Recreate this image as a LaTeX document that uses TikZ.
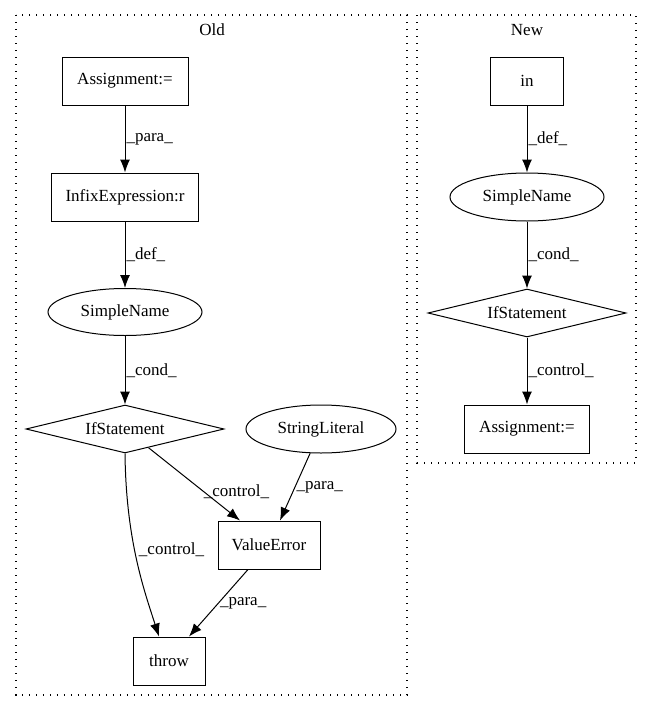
\documentclass[tikz,border=0pt]{standalone}
\usepackage{fontspec}
\setmainfont{Liberation Serif}
\usetikzlibrary{shapes.geometric,arrows.meta}

\tikzset{
  box/.style={draw,rectangle,line width=1pt,inner sep=0pt,minimum height=48pt},
  oval/.style={draw,ellipse,line width=1pt,inner sep=0pt,minimum width=154pt,minimum height=47pt},
  cond/.style={draw,diamond,line width=1pt,inner sep=0pt,aspect=4.1,minimum width=198pt,minimum height=48pt},
  edge/.style={line width=1pt,-{Latex[length=13pt,width=10pt]}},
  lbl/.style={right,inner sep=1pt},
  clust/.style={line width=1.1pt,dash pattern=on 1.3pt off 5.7pt}
}

\begin{document}
\begin{tikzpicture}[x=1pt,y=-1pt,font=\fontsize{17pt}{19pt}\selectfont]
   \useasboundingbox (0,0) rectangle (652,712);
   % old
   \draw[clust] (16,15) rectangle (407,695);
   \node (oldt) at (212,30) {Old};
   \node[box,minimum width=126pt] (asgold) at (125,81) {Assignment:=};
   \node[box,minimum width=147pt] (infix) at (125,197) {InfixExpression:r};
   \node[oval] (snold) at (125,312) {SimpleName};
   \node[cond] (ifold) at (125,429) {IfStatement};
   \node[oval,minimum width=150pt,minimum height=48pt] (strlit) at (321,429) {StringLiteral};
   \node[box,minimum width=102pt] (valerr) at (269,545) {ValueError};
   \node[box,minimum width=72pt] (throw) at (169,661) {throw};
   \draw[edge] (asgold) -- node[lbl]{\_para\_} (infix);
   \draw[edge] (infix) -- node[lbl]{\_def\_} (snold);
   \draw[edge] (snold) -- node[lbl]{\_cond\_} (ifold);
   \draw[edge] (ifold.south) .. controls (126,540) and (144,590) .. node[pos=0.44,lbl,xshift=3pt]{\_control\_} (throw.north -| 159,637);
   \draw[edge] (ifold) -- node[pos=0.6,lbl,inner sep=0pt]{\_control\_} (valerr.north -| 240,521);
   \draw[edge] (strlit) -- node[pos=0.5,lbl]{\_para\_} (valerr.north -| 280,521);
   \draw[edge] (valerr.south -| 248,569) -- node[pos=0.5,lbl]{\_para\_} (throw.north -| 189,637);
   % new
   \draw[clust] (417,15) rectangle (636,463);
   \node (newt) at (527,30) {New};
   \node[box,minimum width=73pt] (innew) at (527,81) {in};
   \node[oval,minimum height=48pt] (snnew) at (527,197) {SimpleName};
   \node[cond] (ifnew) at (527,313) {IfStatement};
   \node[box,minimum width=125pt] (asgnew) at (527,429) {Assignment:=};
   \draw[edge] (innew) -- node[lbl]{\_def\_} (snnew);
   \draw[edge] (snnew) -- node[lbl]{\_cond\_} (ifnew);
   \draw[edge] (ifnew) -- node[lbl]{\_control\_} (asgnew);
\end{tikzpicture}
\end{document}
